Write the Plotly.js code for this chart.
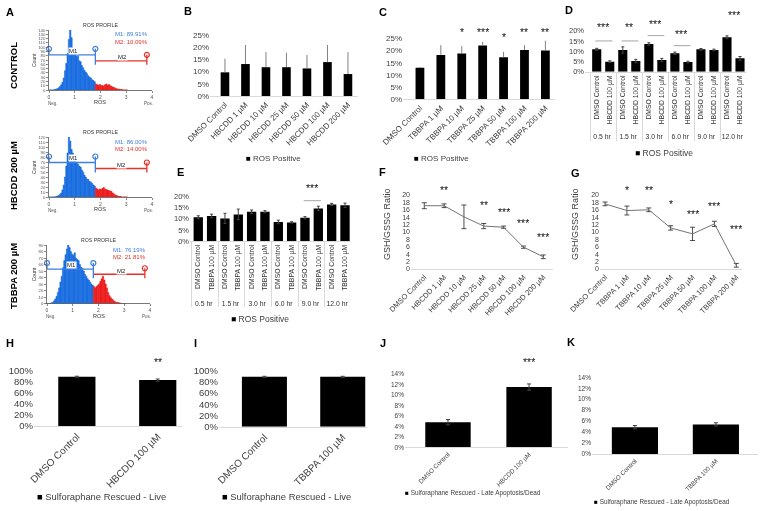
<!DOCTYPE html>
<html><head><meta charset="utf-8">
<script src="https://cdn.plot.ly/plotly-3.0.1.min.js"></script>
<style>html,body{margin:0;padding:0;background:#fff}#chart{width:762px;height:511px;will-change:transform;-webkit-font-smoothing:antialiased}</style>
</head><body><div id="chart"></div>
<script>
// ================= DATA =================
// Panel A: ROS profile histograms (counts per 0.05 ROS bin, starting at 0)
const rosRowLabels = ['CONTROL', 'HBCDD 200 µM', 'TBBPA 200 µM'];
const histBinWidth = 0.05;
const histControl = [0,0,0,0,1,2,3,5,8,12,18,28,45,62,85,118,140,122,98,88,92,78,80,68,66,57,52,46,42,38,33,30,28,24,22,19,14,12,11,13,10,11,9,12,14,11,13,10,9,7,6,4,3,2,2,1,1,0,0,0,0];
const histHBCDD200 = [0,0,0,0,0,1,2,3,5,8,14,24,40,62,88,120,112,95,88,80,75,70,66,62,60,54,50,44,40,36,35,31,30,27,24,22,18,16,14,16,15,17,19,16,15,14,13,12,11,8,6,4,3,2,1,1,0,0,0,0,0];
const histTBBPA200 = [0,0,0,1,2,4,7,11,17,24,33,42,55,66,75,84,90,86,80,76,74,78,70,68,66,60,56,54,50,45,42,38,36,33,30,28,26,24,26,28,30,34,38,42,36,30,24,17,12,9,7,5,3,2,2,1,1,0,0,0,0];
const gateM1 = [0, 1.8];
const gateM2 = [1.8, 3.8];
const gateM1Level = [82, 69, 53];
const gateM2Level = [68, 57, 45];
const m1Percent = ['89.91%', '86.00%', '76.19%'];
const m2Percent = ['10.09%', '14.00%', '21.81%'];

// Panels B, C, F, G: concentration series
const hbcddCats = ['DMSO Control','HBCDD 1 µM','HBCDD 10 µM','HBCDD 25 µM','HBCDD 50 µM','HBCDD 100 µM','HBCDD 200 µM'];
const tbbpaCats = ['DMSO Control','TBBPA 1 µM','TBBPA 10 µM','TBBPA 25 µM','TBBPA 50 µM','TBBPA 100 µM','TBBPA 200 µM'];
const rosHBCDD = [9.7, 13.1, 11.8, 11.8, 11.3, 13.9, 9.0];
const rosHBCDDErr = [5.6, 7.8, 6.2, 5.9, 5.5, 7.0, 9.0];
const rosTBBPA = [12.9, 18.2, 18.8, 22.0, 17.2, 20.2, 20.0];
const rosTBBPAErr = [0.4, 4.0, 3.0, 1.6, 2.3, 2.0, 4.0];
const rosTBBPASig = ['', '', '*', '***', '*', '**', '**'];

// Panels D, E: time course
const timeGroups = ['0.5 hr','1.5 hr','3.0 hr','6.0 hr','9.0 hr','12.0 hr'];
const rosTimeCtrlH = [10.9, 10.6, 13.5, 9.0, 10.9, 16.8];
const rosTimeCtrlHErr = [0.5, 1.5, 0.6, 0.6, 0.4, 0.7];
const rosTimeHBCDD = [4.9, 5.2, 5.7, 4.7, 10.6, 6.5];
const rosTimeHBCDDErr = [0.4, 0.8, 0.8, 0.4, 0.4, 0.9];
const rosTimeHBCDDSig = ['***', '**', '***', '***', '', '***'];
const rosTimeCtrlT = [10.7, 10.2, 13.2, 8.6, 10.5, 16.5];
const rosTimeCtrlTErr = [0.7, 2.3, 0.8, 0.8, 0.5, 0.5];
const rosTimeTBBPA = [11.3, 12.0, 13.2, 8.4, 14.7, 16.1];
const rosTimeTBBPAErr = [0.8, 2.4, 0.5, 0.3, 1.0, 1.0];
const rosTimeTBBPASig = ['', '', '', '', '***', ''];

// Panels F, G: GSH/GSSG ratio
const gshHBCDD = [17.1, 17.1, 14.1, 11.6, 11.3, 5.9, 3.3];
const gshHBCDDErr = [0.8, 0.5, 3.2, 0.7, 0.3, 0.3, 0.5];
const gshHBCDDSig = ['', '**', '', '**', '***', '***', '***'];
const gshTBBPA = [17.6, 15.8, 16.0, 11.1, 9.5, 12.2, 1.0];
const gshTBBPAErr = [0.5, 1.2, 0.5, 0.6, 1.8, 0.7, 0.5];
const gshTBBPASig = ['', '*', '**', '*', '***', '***', '***'];

// Panels H-K: sulforaphane rescue
const rescueHCats = ['DMSO Control', 'HBCDD 100 µM'];
const rescueTCats = ['DMSO Control', 'TBBPA 100 µM'];
const liveHBCDD = [89, 83];
const liveHBCDDErr = [1.0, 2.0];
const liveHBCDDSig = ['', '**'];
const liveTBBPA = [89, 89];
const liveTBBPAErr = [1.0, 1.0];
const deadHBCDD = [4.8, 11.5];
const deadHBCDDErr = [0.5, 0.6];
const deadHBCDDSig = ['', '***'];
const deadTBBPA = [4.9, 5.4];
const deadTBBPAErr = [0.3, 0.3];

// ================= LAYOUT HELPERS =================
const W = 762, H = 511;
const FONT = 'Arial, "Liberation Sans", sans-serif';
const TXT = '#404040', AXC = '#d9d9d9';
const BLUE = '#1a6de0', RED = '#ec1c1c', GBLUE = '#3d7fe0', GRED = '#e8302a';
const data = [], annotations = [], shapes = [];
const layout = {width: W, height: H, margin: {l: 0, r: 0, t: 0, b: 0, pad: 0},
  paper_bgcolor: '#fff', plot_bgcolor: 'rgba(0,0,0,0)', showlegend: false,
  font: {family: FONT, size: 8, color: TXT}, annotations, shapes};
const axInfo = {};

function sfx(i) { return i === 1 ? '' : String(i); }
function dom(b) { return {x: [b[0] / W, b[1] / W], y: [1 - b[3] / H, 1 - b[2] / H]}; }
function addAxes(i, box, xa, ya) {
  const s = sfx(i), d = dom(box);
  layout['xaxis' + s] = Object.assign({domain: d.x, anchor: 'y' + s, showgrid: false, zeroline: false, fixedrange: true}, xa);
  layout['yaxis' + s] = Object.assign({domain: d.y, anchor: 'x' + s, showgrid: false, zeroline: false, fixedrange: true}, ya);
  axInfo[i] = {box: box, yr: ya.range};
}
function fnt(size, color, extra) { return Object.assign({family: FONT, size: size, color: color || TXT}, extra || {}); }
function pann(px, py, text, o) {
  annotations.push(Object.assign({xref: 'paper', yref: 'paper', x: px / W, y: 1 - py / H, text: text,
    xanchor: 'center', yanchor: 'middle', showarrow: false, font: fnt(8), borderpad: 0}, o || {}));
}
function dann(i, x, y, text, o) {
  const s = sfx(i);
  annotations.push(Object.assign({xref: 'x' + s, yref: 'y' + s, x: x, y: y, text: text,
    xanchor: 'center', yanchor: 'middle', showarrow: false, font: fnt(8), borderpad: 0}, o || {}));
}
// significance stars: x in the axis' own units, y value converted through the axis scale (may lie above the range)
function star(i, x, yVal, text) {
  const a = axInfo[i], b = a.box, r = a.yr;
  const py = b[3] - (yVal - r[0]) / (r[1] - r[0]) * (b[3] - b[2]);
  annotations.push({xref: 'x' + sfx(i), yref: 'paper', x: x, y: 1 - (py + 2) / H, text: text,
    xanchor: 'center', yanchor: 'middle', showarrow: false, font: fnt(10.5, '#111'), borderpad: 0});
}
function catX(range, size, angle, extra) {
  return Object.assign({type: 'category', range: range, showline: true, linecolor: AXC, linewidth: 1,
    ticks: '', tickmode: 'linear', tick0: 0, dtick: 1, tickangle: angle, tickfont: fnt(size)}, extra || {});
}
function linY(range, dtick, suffix, size) {
  return {range: range, dtick: dtick, ticksuffix: suffix, showline: false, ticks: '', tickfont: fnt(size)};
}
const SQ = '<span style="color:#000">■</span> ';

// ================= PANEL A =================
const hists = [histControl, histHBCDD200, histTBBPA200];
const aBox = [[49, 152, 30, 90], [49, 152, 137, 197], [47, 150, 245, 303.5]];
const aMax = [140, 120, 90];
const aRowY = [66, 176, 276];
const m2LabelX = [2.85, 2.83, 2.9];
hists.forEach((h, k) => {
  const i = k + 1, s = sfx(i), b = aBox[k];
  const axStyle = {showline: true, linecolor: '#555', linewidth: 0.8, ticks: 'outside', ticklen: 2, tickwidth: 0.7, tickcolor: '#555'};
  addAxes(i, b, Object.assign({range: [0, 4], dtick: 1, tickfont: fnt(5, '#555')}, axStyle),
    Object.assign({range: [0, aMax[k]], dtick: 10, tickfont: fnt(4.3, '#555')}, axStyle));
  const cols = h.map((c, j) => (j * histBinWidth < gateM1[1] - 1e-9) ? BLUE : RED);
  data.push({type: 'bar', x0: histBinWidth / 2, dx: histBinWidth, y: h, width: histBinWidth,
    xaxis: 'x' + s, yaxis: 'y' + s, hoverinfo: 'skip',
    marker: {color: cols, line: {width: 0.6, color: cols}}});
  const kp = aMax[k] / (b[3] - b[2]);
  const L1 = gateM1Level[k], L2 = gateM2Level[k];
  const ln = (x, y, c) => data.push({type: 'scatter', mode: 'lines', x: x, y: y, xaxis: 'x' + s, yaxis: 'y' + s,
    line: {color: c, width: 1.3}, hoverinfo: 'skip', cliponaxis: false});
  const circ = (x, y, c) => data.push({type: 'scatter', mode: 'markers', x: x, y: y, xaxis: 'x' + s, yaxis: 'y' + s,
    marker: {symbol: 'circle-open', size: 5, color: c, line: {width: 1.2, color: c}}, hoverinfo: 'skip', cliponaxis: false});
  // M2 gate
  ln(gateM2, [L2, L2], GRED);
  ln([gateM2[1], gateM2[1]], [L2 + 6 * kp, L2 - 4 * kp], GRED);
  circ([gateM2[1]], [L2 + 6 * kp], GRED);
  // M1 gate
  ln(gateM1, [L1, L1], GBLUE);
  ln([gateM1[0], gateM1[0]], [L1 + 6 * kp, L1], GBLUE);
  ln([gateM1[1], gateM1[1]], [L1 + 6 * kp, L2 - 4 * kp], GBLUE);
  circ(gateM1, [L1 + 6 * kp, L1 + 6 * kp], GBLUE);
  dann(i, 0.97, L1 + 4 * kp, 'M1', {font: fnt(6, '#222'), bgcolor: '#fff'});
  dann(i, m2LabelX[k], L2 + 3.5 * kp, 'M2', {font: fnt(6, '#222'), bgcolor: '#fff'});
  // texts
  pann((b[0] + b[1]) / 2, b[2] - 1, 'ROS PROFILE', {yanchor: 'bottom', font: fnt(5.2, '#333')});
  pann(b[1] - 3, b[2] + 4.5, 'M1: ' + m1Percent[k], {xanchor: 'right', font: fnt(6, GBLUE)});
  pann(b[1] - 3, b[2] + 12, 'M2: ' + m2Percent[k], {xanchor: 'right', font: fnt(6, GRED)});
  pann(34, (b[2] + b[3]) / 2, 'Count', {textangle: -90, font: fnt(5, '#333')});
  pann(b[0] + 4, b[3] + 13, 'Neg.', {font: fnt(4.5, '#555')});
  pann((b[0] + b[1]) / 2, b[3] + 12, 'ROS', {font: fnt(5.5, '#333')});
  pann(b[1] - 4, b[3] + 13, 'Pos.', {font: fnt(4.5, '#555')});
  pann(13, aRowY[k], '<b>' + rosRowLabels[k] + '</b>', {textangle: -90, font: fnt(9.5, '#000')});
});

// ================= PANEL B =================
addAxes(4, [210, 358, 35, 96], catX([-0.73, 6.49], 8, -45), linY([0, 25], 5, '%', 8));
data.push({type: 'bar', x: hbcddCats, y: rosHBCDD, width: 0.42, xaxis: 'x4', yaxis: 'y4', marker: {color: '#000'},
  error_y: {type: 'data', symmetric: false, array: rosHBCDDErr, arrayminus: rosHBCDDErr.map(() => 0), color: '#808080', thickness: 1, width: 0}});
pann(273, 158, SQ + 'ROS Positive', {font: fnt(8)});

// ================= PANEL C =================
addAxes(5, [403, 555, 38.3, 99.3], catX([-0.81, 6.46], 8, -45), linY([0, 25], 5, '%', 8));
data.push({type: 'bar', x: tbbpaCats, y: rosTBBPA, width: 0.42, xaxis: 'x5', yaxis: 'y5', marker: {color: '#000'},
  error_y: {type: 'data', symmetric: false, array: rosTBBPAErr, arrayminus: rosTBBPAErr.map(() => 0), color: '#808080', thickness: 1, width: 0}});
const cStarY = [0, 0, 28.4, 28.4, 26.4, 28.4, 28.4];
rosTBBPASig.forEach((t, j) => { if (t) star(5, j, cStarY[j], t); });
pann(441, 158, SQ + 'ROS Positive', {font: fnt(8)});

// ================= PANEL D & E (time course, multicategory) =================
function timeTrace(ctrl, ctrlErr, trt, trtErr, trtName, ax) {
  const x = [[], []], y = [], e = [];
  timeGroups.forEach((g, j) => {
    x[0].push(g, g); x[1].push('DMSO Control', trtName);
    y.push(ctrl[j], trt[j]); e.push(ctrlErr[j], trtErr[j]);
  });
  data.push({type: 'bar', x: x, y: y, width: 0.7, xaxis: 'x' + ax, yaxis: 'y' + ax, marker: {color: '#000'},
    error_y: {type: 'data', array: e, color: '#404040', thickness: 1, width: 1.5}});
}
const multiX = (range) => ({type: 'multicategory', range: range, showline: true, linecolor: AXC, linewidth: 1, ticks: '',
  tickangle: -90, tickfont: fnt(6.8, '#303030'), showdividers: true, dividercolor: AXC, dividerwidth: 1});

addAxes(6, [585, 746, 30.7, 71.7], multiX([-0.9, 11.46]), linY([0, 20], 5, '%', 7.5));
timeTrace(rosTimeCtrlH, rosTimeCtrlHErr, rosTimeHBCDD, rosTimeHBCDDErr, 'HBCDD 100 µM', 6);
const dLineY = [15, 15, 17.6, 12.7, 0, 21.2], dStarY = [22.8, 22.8, 24.4, 19.5, 0, 28.5];
rosTimeHBCDDSig.forEach((t, g) => {
  if (!t) return;
  shapes.push({type: 'line', xref: 'x6', yref: 'y6', x0: 2 * g - 0.1, x1: 2 * g + 1.2, y0: dLineY[g], y1: dLineY[g], line: {color: '#a6a6a6', width: 1}});
  star(6, 2 * g + 0.5, dStarY[g], t);
});
pann(664, 153, SQ + 'ROS Positive', {font: fnt(8.5)});

addAxes(7, [190, 351, 196.7, 241], multiX([-0.62, 11.45]), linY([0, 20], 5, '%', 7.5));
timeTrace(rosTimeCtrlT, rosTimeCtrlTErr, rosTimeTBBPA, rosTimeTBBPAErr, 'TBBPA 100 µM', 7);
rosTimeTBBPASig.forEach((t, g) => {
  if (!t) return;
  shapes.push({type: 'line', xref: 'x7', yref: 'y7', x0: 2 * g - 0.1, x1: 2 * g + 1.2, y0: 18.2, y1: 18.2, line: {color: '#a6a6a6', width: 1}});
  star(7, 2 * g + 0.5, 25, t);
});
pann(260, 319, SQ + 'ROS Positive', {font: fnt(8.5)});

// ================= PANEL F & G (GSH/GSSG) =================
addAxes(8, [411, 553, 195, 269], catX([-0.67, 6.49], 7.5, -45), linY([0, 20], 2, '', 7));
data.push({type: 'scatter', mode: 'lines', x: hbcddCats, y: gshHBCDD, xaxis: 'x8', yaxis: 'y8', line: {color: '#737373', width: 1},
  error_y: {type: 'data', array: gshHBCDDErr, color: '#222', thickness: 0.8, width: 2.5}});
const fStarY = [0, 21.8, 0, 17.8, 16, 13, 9.2];
gshHBCDDSig.forEach((t, j) => { if (t) star(8, j, fStarY[j], t); });
pann(387, 224, 'GSH/GSSG Ratio', {textangle: -90, font: fnt(9)});

addAxes(9, [600, 742, 195, 269], catX([-0.23, 6.26], 7.5, -45), linY([0, 20], 2, '', 7));
data.push({type: 'scatter', mode: 'lines', x: tbbpaCats, y: gshTBBPA, xaxis: 'x9', yaxis: 'y9', line: {color: '#737373', width: 1},
  error_y: {type: 'data', array: gshTBBPAErr, color: '#222', thickness: 0.8, width: 2.5}});
const gStarY = [0, 21.8, 21.8, 18.2, 15.5, 17.5, 11.4];
gshTBBPASig.forEach((t, j) => { if (t) star(9, j, gStarY[j], t); });
pann(575, 224, 'GSH/GSSG Ratio', {textangle: -90, font: fnt(9)});

// ================= PANELS H-K =================
function rescueBar(ax, cats, vals, errs, w) {
  data.push({type: 'bar', x: cats, y: vals, width: w, xaxis: 'x' + ax, yaxis: 'y' + ax, marker: {color: '#000'},
    error_y: {type: 'data', array: errs, color: '#404040', thickness: 1, width: 2}});
}
addAxes(10, [34, 182, 370.7, 426], catX([-0.53, 1.30], 10, -45), linY([0, 100], 20, '%', 9.5));
rescueBar(10, rescueHCats, liveHBCDD, liveHBCDDErr, 0.46);
liveHBCDDSig.forEach((t, j) => { if (t) star(10, j, 119, t); });
pann(101, 496.7, SQ + 'Sulforaphane Rescued - Live', {font: fnt(9.4)});

addAxes(11, [219, 367, 370.7, 426.7], catX([-0.58, 1.31], 10, -45), linY([0, 100], 20, '%', 9.5));
rescueBar(11, rescueTCats, liveTBBPA, liveTBBPAErr, 0.575);
pann(286, 496.7, SQ + 'Sulforaphane Rescued - Live', {font: fnt(9.4)});

addAxes(12, [405, 568, 374, 447.3], catX([-0.53, 1.48], 6.3, -45), linY([0, 14], 2, '%', 6.5));
rescueBar(12, rescueHCats, deadHBCDD, deadHBCDDErr, 0.56);
deadHBCDDSig.forEach((t, j) => { if (t) star(12, j, 16.7, t); });
pann(473, 493.3, SQ + 'Sulforaphane Rescued - Late Apoptosis/Dead', {font: fnt(6.4)});

addAxes(13, [592, 758, 377.3, 454], catX([-0.53, 1.52], 6.3, -45), linY([0, 14], 2, '%', 6.5));
rescueBar(13, rescueTCats, deadTBBPA, deadTBBPAErr, 0.57);
pann(662, 501.7, SQ + 'Sulforaphane Rescued - Late Apoptosis/Dead', {font: fnt(6.4)});

// ================= PANEL LETTERS =================
const letters = [['A', 10, 12], ['B', 188, 11], ['C', 383, 12], ['D', 569, 10], ['E', 180, 172], ['F', 383, 172],
  ['G', 575, 173], ['H', 10, 343], ['I', 195, 343], ['J', 383, 343], ['K', 571, 342]];
letters.forEach(l => pann(l[1], l[2], '<b>' + l[0] + '</b>', {font: fnt(11, '#000')}));

Plotly.newPlot('chart', data, layout, {staticPlot: true, displayModeBar: false});
</script></body></html>
